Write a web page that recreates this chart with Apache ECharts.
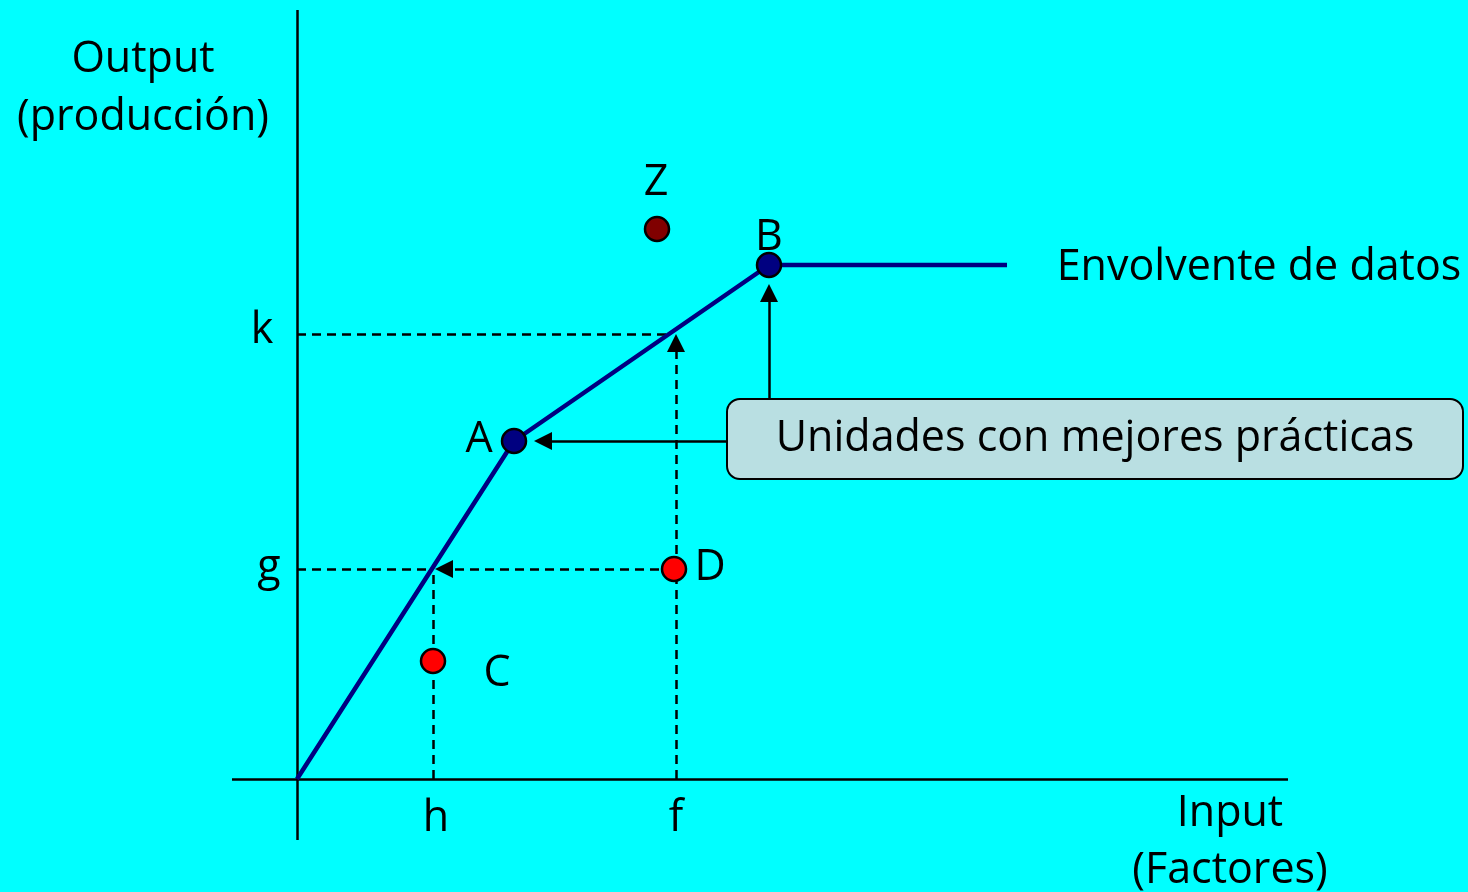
<!DOCTYPE html>
<html>
<head>
<meta charset="utf-8">
<script src="https://cdn.jsdelivr.net/npm/echarts@6/dist/echarts.min.js"></script>
<style>
  html, body { margin: 0; padding: 0; background: #00ffff; }
  #chart { width: 1468px; height: 892px; }
</style>
</head>
<body>
<div id="chart"></div>
<script>
// envolvente (frontera de buenas practicas)
var frontier = [[0, 0], [217, 338], [472, 514], [710, 514]];

// unidades
var unitNames = ['A', 'B', 'C', 'D', 'Z'];
var unitX = [217, 472, 136, 377, 360];
var unitY = [338, 514, 118, 210, 550];

// valores de referencia en los ejes
var tickH = 136, tickF = 379, tickG = 210, tickK = 445;

// textos
var labelTexts = ['Output', '(producción)', 'Input', '(Factores)', 'Envolvente de datos',
  'k', 'g', 'h', 'f', 'A', 'B', 'C', 'D', 'Z'];
var labelX = [-154, -154, 933, 933, 962, -35, -28, 139, 379, 182, 472, 200, 413, 359];
var labelY = [719, 661, -35, -92, 511, 448, 211, -40, -40, 339, 541, 105, 211, 596];

var boxText = 'Unidades con mejores prácticas';
var boxPos = [798, 340];

var chart = echarts.init(document.getElementById('chart'));

var fontFam = '"Open Sans", "Noto Sans", sans-serif';
var unitColors = { A: '#000080', B: '#000080', C: '#ff0000', D: '#ff0000', Z: '#800000' };

var dashed = { color: '#000', width: 2.5, type: [9, 6] };

var option = {
  backgroundColor: '#00ffff',
  animation: false,
  grid: { left: 0, right: 0, top: 0, bottom: 0 },
  xAxis: { type: 'value', min: -297, max: 1171, show: false },
  yAxis: { type: 'value', min: -113, max: 779, show: false },
  series: [
    {
      // ejes
      type: 'lines',
      coordinateSystem: 'cartesian2d',
      symbol: 'none',
      lineStyle: { color: '#000', width: 2.5, opacity: 1 },
      data: [
        { coords: [[-65, 0], [991, 0]] },
        { coords: [[0, -61], [0, 769]] }
      ],
      z: 1
    },
    {
      // lineas de proyeccion sin flecha
      type: 'lines',
      coordinateSystem: 'cartesian2d',
      symbol: 'none',
      lineStyle: Object.assign({ opacity: 1 }, dashed),
      data: [
        { coords: [[0, tickK], [372, tickK]] },
        { coords: [[0, tickG], [tickH, tickG]] },
        { coords: [[tickH, 0], [tickH, tickG]] }
      ],
      z: 2
    },
    {
      // lineas de proyeccion con flecha
      type: 'lines',
      coordinateSystem: 'cartesian2d',
      symbol: ['none', 'triangle'],
      symbolSize: [0, 18],
      lineStyle: Object.assign({ opacity: 1 }, dashed),
      data: [
        { coords: [[tickF, 0], [tickF, 436]] },
        { coords: [[unitX[3], tickG], [147, tickG]] }
      ],
      z: 2
    },
    {
      // flechas desde el cuadro
      type: 'lines',
      coordinateSystem: 'cartesian2d',
      symbol: ['none', 'triangle'],
      symbolSize: [0, 18],
      lineStyle: { color: '#000', width: 2.5, opacity: 1 },
      data: [
        { coords: [[430, 338], [246, 338]] },
        { coords: [[472, 381], [472, 486]] }
      ],
      z: 2
    },
    {
      type: 'line',
      data: frontier,
      symbol: 'none',
      lineStyle: { color: '#000080', width: 4.5 },
      z: 3
    },
    {
      type: 'scatter',
      data: unitNames.map(function (n, i) {
        return { name: n, value: [unitX[i], unitY[i]], itemStyle: { color: unitColors[n] } };
      }),
      symbolSize: 24,
      itemStyle: { borderColor: '#000', borderWidth: 2.5, opacity: 1 },
      z: 4
    },
    {
      // textos
      type: 'scatter',
      symbolSize: 0,
      silent: true,
      itemStyle: { opacity: 1 },
      data: labelTexts.map(function (t, i) {
        return { value: [labelX[i], labelY[i]], name: t };
      }),
      label: {
        show: true,
        position: 'inside',
        formatter: '{b}',
        color: '#000',
        fontFamily: fontFam,
        fontSize: 43
      },
      z: 5
    },
    {
      // cuadro
      type: 'scatter',
      symbolSize: 0,
      silent: true,
      itemStyle: { opacity: 1 },
      data: [{ value: boxPos, name: boxText }],
      label: {
        show: true,
        position: 'inside',
        formatter: '{b}',
        color: '#000',
        fontFamily: fontFam,
        fontSize: 43,
        width: 734,
        height: 78,
        lineHeight: 78,
        align: 'center',
        verticalAlign: 'middle',
        backgroundColor: '#b9dfe2',
        borderColor: '#000',
        borderWidth: 2,
        borderRadius: 12
      },
      z: 5
    }
  ]
};

chart.setOption(option);
</script>
</body>
</html>
